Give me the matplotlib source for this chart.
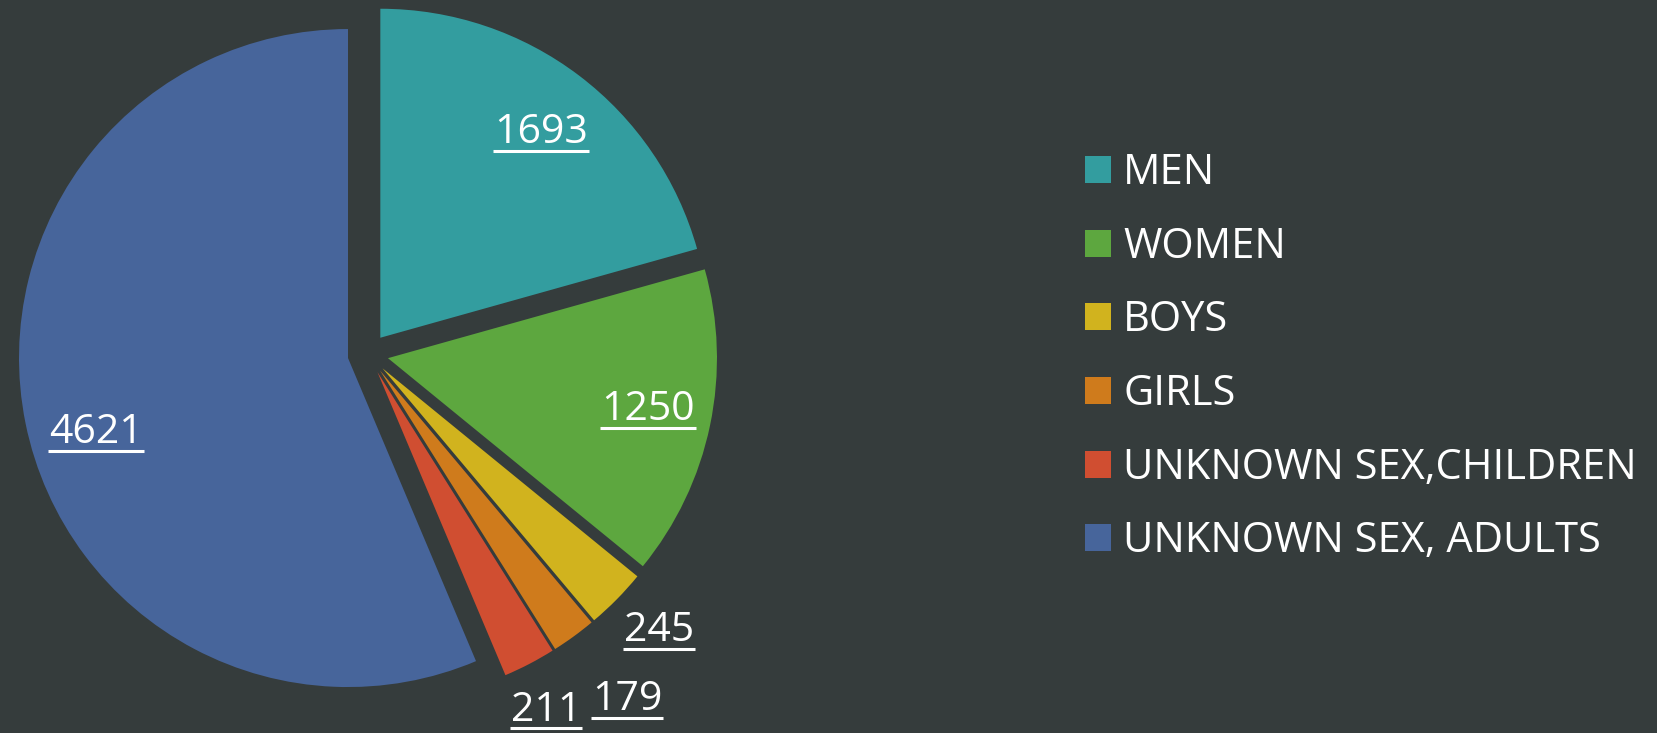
import matplotlib
matplotlib.use("Agg")
import matplotlib.pyplot as plt
from matplotlib.lines import Line2D
from matplotlib.patches import Patch

categories = ["MEN", "WOMEN", "BOYS", "GIRLS", "UNKNOWN SEX,CHILDREN", "UNKNOWN SEX, ADULTS"]
values = [1693, 1250, 245, 179, 211, 4621]
colors = ["#339D9F", "#5DA73F", "#D1B31E", "#CF7B1C", "#D04E31", "#47659B"]
# label anchor positions (pie-radius units, baseline-centre)
label_xy = [(0.526, 0.640), (0.851, -0.202), (0.884, -0.873),
            (0.787, -1.083), (0.541, -1.114), (-0.827, -0.272)]

BG = "#353C3C"
W, H, DPI = 1658, 733, 100
CX, CY, R = 368, 354, 329  # pie centre / radius in pixels

plt.rcParams['font.family'] = ['Open Sans', 'DejaVu Sans']

fig = plt.figure(figsize=(W / DPI, H / DPI), dpi=DPI, facecolor=BG)
ax = fig.add_axes([0, 0, 1, 1])
ax.set_facecolor(BG)

wedges, _ = ax.pie(values, colors=colors, startangle=90, counterclock=False,
                   explode=[0.062] * len(values), radius=1.0,
                   wedgeprops=dict(linewidth=0, antialiased=True))
ax.set_xlim(-CX / R, (W - CX) / R)
ax.set_ylim((CY - H) / R, CY / R)
ax.set_aspect('auto')
ax.axis('off')

texts = []
for v, (x, y) in zip(values, label_xy):
    t = ax.text(x, y, str(v), color="white", fontsize=29.5, ha="center", va="baseline")
    texts.append(t)

handles = [Patch(facecolor=c, edgecolor='none') for c in colors]
leg = fig.legend(handles, categories, loc="upper left",
                 bbox_to_anchor=(1085 / W, 1 - 152 / H), frameon=False,
                 fontsize=30, labelcolor="white", handlelength=0.62,
                 handleheight=0.62, handletextpad=0.3, labelspacing=0.76,
                 borderpad=0, borderaxespad=0)

# underline the value labels
fig.canvas.draw()
renderer = fig.canvas.get_renderer()
for t in texts:
    bb = t.get_window_extent(renderer)
    bx, by = ax.transData.transform(t.get_position())
    yline = by - 7.5
    fig.add_artist(Line2D([(bb.x0 - 1) / W, (bb.x1 + 1) / W], [yline / H, yline / H],
                          transform=fig.transFigure, color="white", linewidth=2.2,
                          solid_capstyle="butt"))

fig.savefig("out.png", dpi=DPI, facecolor=BG)
